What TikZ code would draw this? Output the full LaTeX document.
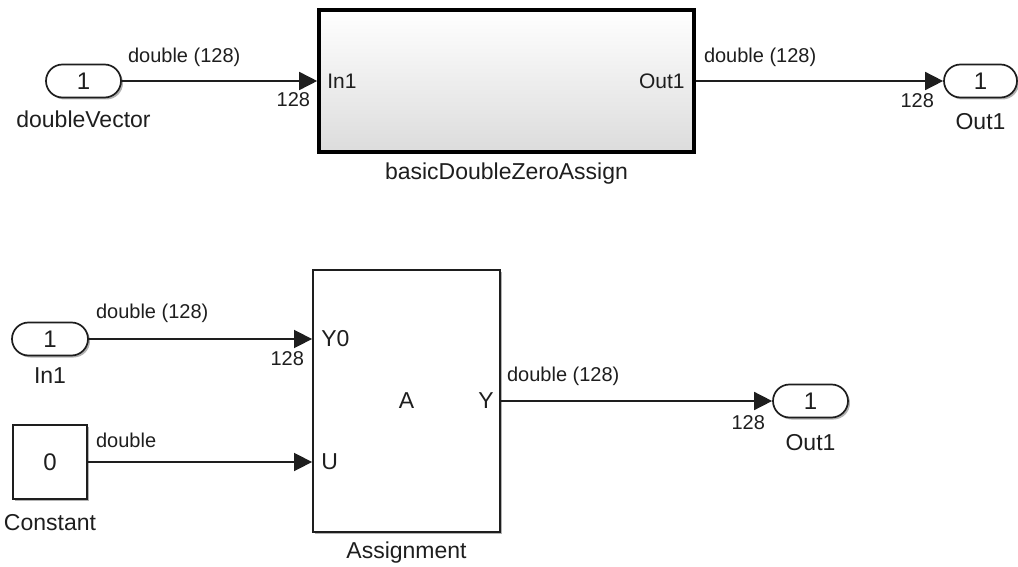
\documentclass[tikz,border=0pt]{standalone}
\usepackage{fontspec}
\setmainfont{Liberation Sans}
\usetikzlibrary{arrows.meta,shapes.misc,shadows}
\definecolor{slkink}{HTML}{1E1E1E}
\definecolor{slkshade}{HTML}{DCDCDC}
\tikzset{
  blkshadow/.style={drop shadow={shadow xshift=2pt,shadow yshift=-2pt,fill=black,opacity=0.3}},
  portpill/.style={rounded rectangle, draw=slkink, line width=1.7pt, fill=white,
    minimum width=75pt, minimum height=33pt, inner sep=0pt, blkshadow,
    text=slkink, font=\fontsize{24}{26}\selectfont},
  constbox/.style={rectangle, draw=slkink, line width=1.8pt, fill=white,
    minimum width=74pt, minimum height=74pt, inner sep=0pt, blkshadow,
    text=slkink, font=\fontsize{24}{26}\selectfont},
  subsysbox/.style={rectangle, draw=black, line width=3.6pt,
    top color=white, bottom color=slkshade,
    minimum width=375pt, minimum height=142pt, blkshadow},
  asgbox/.style={rectangle, draw=slkink, line width=1.8pt, fill=white,
    minimum width=187pt, minimum height=262pt, blkshadow},
  sig/.style={draw=slkink, line width=1.6pt, -{Triangle[length=18pt,width=18pt]}},
  siglbl/.style={inner sep=0pt, text=slkink, font=\fontsize{20}{24}\selectfont},
  portlbl/.style={inner sep=0pt, text=slkink, font=\fontsize{21}{24}\selectfont},
  namelbl/.style={inner sep=0pt, text=slkink, font=\fontsize{23}{26}\selectfont}
}
\begin{document}
\begin{tikzpicture}[x=1pt,y=-1pt]
  \useasboundingbox (0,0) rectangle (1018,567);
  % top model
  \node[portpill] (dvec) at (83.5,81) {1};
  \node[subsysbox] (zeroassign) at (506.5,81) {};
  \node[portpill, minimum width=73pt] (outtop) at (980.5,81) {1};
  \node[namelbl] at ([shift={(0,38)}]dvec.center) {doubleVector};
  \node[namelbl] at ([shift={(0,20)}]zeroassign.south) {basicDoubleZeroAssign};
  \node[namelbl] at ([shift={(0,41)}]outtop.center) {Out1};
  \node[portlbl, anchor=west] at ([shift={(10,0)}]zeroassign.west) {In1};
  \node[portlbl, anchor=east] at ([shift={(-11,0)}]zeroassign.east) {Out1};
  \draw[sig] (dvec) -- (zeroassign);
  \draw[sig] (zeroassign) -- (outtop);
  \node[siglbl, anchor=west] at ([shift={(6,-24)}]dvec.east) {double (128)};
  \node[siglbl, anchor=east] at ([shift={(-7,19)}]zeroassign.west) {128};
  \node[siglbl, anchor=west] at ([shift={(8,-24)}]zeroassign.east) {double (128)};
  \node[siglbl, anchor=east] at ([shift={(-9,20)}]outtop.west) {128};
  % bottom model
  \node[portpill, minimum width=76pt] (inbot) at (50,339) {1};
  \node[constbox] (zero) at (50,462) {0};
  \node[asgbox] (asg) at (406.5,401) {};
  \node[portpill] (outbot) at (810.5,401) {1};
  \node[namelbl] at ([shift={(0,37)}]inbot.center) {In1};
  \node[namelbl] at ([shift={(0,23)}]zero.south) {Constant};
  \node[namelbl] at ([shift={(0,20)}]asg.south) {Assignment};
  \node[namelbl] at ([shift={(0,42)}]outbot.center) {Out1};
  \coordinate (asgY0) at (inbot -| asg.west);
  \coordinate (asgU) at (zero -| asg.west);
  \node[portlbl, font=\fontsize{23}{26}\selectfont, anchor=west] at ([shift={(9,0)}]asgY0) {Y0};
  \node[portlbl, font=\fontsize{23}{26}\selectfont, anchor=west] at ([shift={(9,0)}]asgU) {U};
  \node[portlbl, font=\fontsize{23}{26}\selectfont, anchor=east] at ([shift={(-7,0)}]asg.east) {Y};
  \node[portlbl, font=\fontsize{23}{26}\selectfont] at (asg.center) {A};
  \draw[sig] (inbot) -- (asgY0);
  \draw[sig] (zero) -- (asgU);
  \draw[sig] (asg) -- (outbot);
  \node[siglbl, anchor=west] at ([shift={(7,-26)}]inbot.east) {double (128)};
  \node[siglbl, anchor=east] at ([shift={(-8,20)}]asgY0) {128};
  \node[siglbl, anchor=west] at ([shift={(8,-22)}]zero.east) {double};
  \node[siglbl, anchor=west] at ([shift={(6,-25)}]asg.east) {double (128)};
  \node[siglbl, anchor=east] at ([shift={(-7,22)}]outbot.west) {128};
\end{tikzpicture}
\end{document}
